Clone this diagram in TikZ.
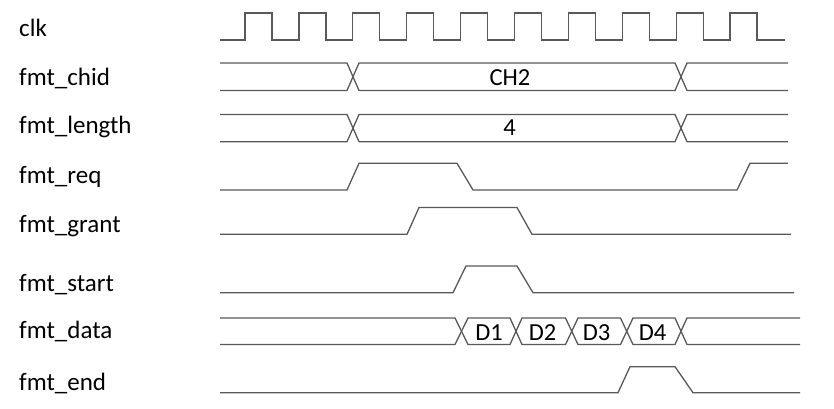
\documentclass[tikz,border=0pt]{standalone}
\usepackage{fontspec}
\setmainfont{Carlito}

\begin{document}
\begin{tikzpicture}[x=1pt, y=-1pt,
    wave/.style={line width=1.3pt, draw=black!65, line join=miter},
    signame/.style={anchor=base west, inner sep=0pt, font=\fontsize{25}{29}\selectfont},
    busval/.style={anchor=base, inner sep=0pt, font=\fontsize{24.5}{29}\selectfont}]

\useasboundingbox (0,0) rectangle (834,408);

% Signal names
\node[signame] (clk) at (19,36.7) {clk};
\node[signame] (chid) at (19,85) {fmt\_chid};
\node[signame] (length) at (19,133) {fmt\_length};
\node[signame] (req) at (19,183) {fmt\_req};
\node[signame] (grant) at (19,232.7) {fmt\_grant};
\node[signame] (start) at (19,291.7) {fmt\_start};
\node[signame] (data) at (19,338) {fmt\_data};
\node[signame] (end) at (19,390) {fmt\_end};

% Clock
\draw[wave] (220,40) \foreach \i in {0,...,9} {
    -- ({245+53.9*\i},40) -- ({245+53.9*\i},13) -- ({272+53.9*\i},13) -- ({272+53.9*\i},40)} -- (785,40);

% Buses
\draw[wave] (220,63) -- (347,63) -- (359,90.5) -- (675,90.5) -- (687,63) -- (788,63);
\draw[wave] (220,90.5) -- (347,90.5) -- (359,63) -- (675,63) -- (687,90.5) -- (788,90.5);
\node[busval] (chval) at (510,85.7) {CH2};

\draw[wave] (220,114.5) -- (347,114.5) -- (359,141.7) -- (675,141.7) -- (687,114.5) -- (788,114.5);
\draw[wave] (220,141.7) -- (347,141.7) -- (359,114.5) -- (675,114.5) -- (687,141.7) -- (788,141.7);
\node[busval] (lenval) at (509.5,135) {4};

% Handshake
\draw[wave] (220,190) -- (347,190) -- (359,163.3) -- (457,163.3) -- (473,190) -- (737,190) -- (750,163.3) -- (788,163.3);
\draw[wave] (220,234.3) -- (407,234.3) -- (419,207.5) -- (517,207.5) -- (532,234.3) -- (791,234.3);
\draw[wave] (220,292.7) -- (453,292.7) -- (466,266) -- (517,266) -- (533,292.7) -- (794,292.7);

% Data beats
\draw[wave] (220,318) -- (455,318) -- (468,344.5) -- (510,344.5) -- (522,318) -- (565.5,318) -- (578,344.5)
    -- (620.5,344.5) -- (633,318) -- (675,318) -- (687,344.5) -- (800,344.5);
\draw[wave] (220,344.5) -- (455,344.5) -- (468,318) -- (510,318) -- (522,344.5) -- (565.5,344.5) -- (578,318)
    -- (620.5,318) -- (633,344.5) -- (675,344.5) -- (687,318) -- (800,318);
\node[busval] (d1) at (489,340) {D1};
\node[busval] (d2) at (542.5,340) {D2};
\node[busval] (d3) at (596.5,340) {D3};
\node[busval] (d4) at (652.5,340) {D4};

\draw[wave] (220,392.7) -- (618,392.7) -- (630,366.7) -- (675,366.7) -- (693,392.7) -- (800,392.7);

\end{tikzpicture}
\end{document}
